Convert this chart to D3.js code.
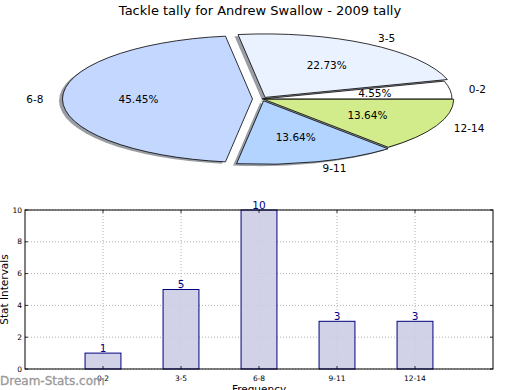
<!DOCTYPE html>
<html>
<head>
<meta charset="utf-8">
<script src="https://cdn.jsdelivr.net/npm/d3@7"></script>
<style>
  body { margin: 0; background: #fff; }
  text { font-family: "DejaVu Sans", sans-serif; }
</style>
</head>
<body>
<div id="chart"></div>
<script>
// data
const categories = ["0-2", "3-5", "6-8", "9-11", "12-14"];
const counts = [1, 5, 10, 3, 3];
const percents = ["4.55%", "22.73%", "45.45%", "13.64%", "13.64%"];
const explode = [0, 0.03, 0.05, 0.03, 0.01];
const sliceColors = ["#ffffff", "#ebf2ff", "#c4d8ff", "#b3d4ff", "#d2ec8c"];
const yTicks = [0, 2, 4, 6, 8, 10];

const width = 520, height = 390;

const svg = d3.select("#chart")
    .append("svg")
    .attr("width", width)
    .attr("height", height);

// title
svg.append("text")
    .attr("x", 260)
    .attr("y", 15)
    .attr("text-anchor", "middle")
    .attr("font-size", "13px")
    .attr("fill", "#000")
    .text("Tackle tally for Andrew Swallow - 2009 tally");

// ---- pie (matplotlib style, counter-clockwise from 3 o'clock) ----
const cx = 262, cy = 99, rx = 190, ry = 63.5;

const pie = d3.pie()
    .sort(null)
    .value(d => d)
    .startAngle(Math.PI / 2)
    .endAngle(Math.PI / 2 - 2 * Math.PI);

const arcs = pie(counts);
const arc = d3.arc().innerRadius(0).outerRadius(ry);

function midTheta(a) {
    return Math.PI / 2 - (a.startAngle + a.endAngle) / 2;
}
function offset(a, i) {
    const t = midTheta(a);
    return [explode[i] * rx * Math.cos(t), -explode[i] * ry * Math.sin(t)];
}

const pieG = svg.append("g");

// shadows
pieG.selectAll(".shadow")
    .data(arcs)
    .enter()
    .append("path")
    .attr("class", "shadow")
    .attr("d", arc)
    .attr("transform", (a, i) => {
        const o = offset(a, i);
        return `translate(${cx + o[0] - 3.5},${cy + o[1] + 1.8}) scale(${rx / ry},1)`;
    })
    .attr("fill", "#9a9ea4");

// wedges
pieG.selectAll(".wedge")
    .data(arcs)
    .enter()
    .append("path")
    .attr("class", "wedge")
    .attr("d", arc)
    .attr("transform", (a, i) => {
        const o = offset(a, i);
        return `translate(${cx + o[0]},${cy + o[1]}) scale(${rx / ry},1)`;
    })
    .attr("fill", (a, i) => sliceColors[i])
    .attr("stroke", "#000")
    .attr("stroke-width", 0.8)
    .attr("vector-effect", "non-scaling-stroke");

// labels
pieG.selectAll(".plabel")
    .data(arcs)
    .enter()
    .append("text")
    .attr("class", "plabel")
    .attr("x", (a, i) => cx + offset(a, i)[0] + 1.1 * rx * Math.cos(midTheta(a)))
    .attr("y", (a, i) => cy + offset(a, i)[1] - 1.1 * ry * Math.sin(midTheta(a)))
    .attr("dy", "0.35em")
    .attr("text-anchor", a => Math.cos(midTheta(a)) < 0 ? "end" : "start")
    .attr("font-size", "10.5px")
    .text((a, i) => categories[i]);

pieG.selectAll(".pct")
    .data(arcs)
    .enter()
    .append("text")
    .attr("class", "pct")
    .attr("x", (a, i) => cx + offset(a, i)[0] + 0.6 * rx * Math.cos(midTheta(a)))
    .attr("y", (a, i) => cy + offset(a, i)[1] - 0.6 * ry * Math.sin(midTheta(a)))
    .attr("dy", "0.35em")
    .attr("text-anchor", "middle")
    .attr("font-size", "10.5px")
    .text((a, i) => percents[i]);

// ---- bar chart ----
const axLeft = 25, axRight = 493, axTop = 210, axBottom = 369;

const x = d3.scaleLinear().domain([0, 6]).range([axLeft, axRight]);
const y = d3.scaleLinear().domain([0, 10]).range([axBottom, axTop]);
const barW = 0.46;

const barG = svg.append("g");

// grid
barG.selectAll(".hgrid")
    .data(yTicks)
    .enter()
    .append("line")
    .attr("x1", axLeft).attr("x2", axRight)
    .attr("y1", d => y(d)).attr("y2", d => y(d))
    .attr("stroke", "#b0b0b0")
    .attr("stroke-width", 1)
    .attr("stroke-dasharray", "1,2");

barG.selectAll(".vgrid")
    .data(categories)
    .enter()
    .append("line")
    .attr("x1", (d, i) => x(i + 1)).attr("x2", (d, i) => x(i + 1))
    .attr("y1", axTop).attr("y2", axBottom)
    .attr("stroke", "#b0b0b0")
    .attr("stroke-width", 1)
    .attr("stroke-dasharray", "1,2");

// bars
barG.selectAll(".bar")
    .data(counts)
    .enter()
    .append("rect")
    .attr("x", (d, i) => x(i + 1 - barW / 2))
    .attr("y", d => y(d))
    .attr("width", x(barW) - x(0))
    .attr("height", d => y(0) - y(d))
    .attr("fill", "#ccccE5")
    .attr("fill-opacity", 0.9)
    .attr("stroke", "#000080")
    .attr("stroke-width", 1);

// value labels
barG.selectAll(".val")
    .data(counts)
    .enter()
    .append("text")
    .attr("x", (d, i) => x(i + 1))
    .attr("y", d => y(d) - 1.5)
    .attr("text-anchor", "middle")
    .attr("font-size", "10.5px")
    .attr("fill", "#00008b")
    .text(d => d);

// frame
barG.append("rect")
    .attr("x", axLeft).attr("y", axTop)
    .attr("width", axRight - axLeft).attr("height", axBottom - axTop)
    .attr("fill", "none")
    .attr("stroke", "#000")
    .attr("stroke-width", 1);

// y ticks
barG.selectAll(".yt")
    .data(yTicks)
    .enter()
    .append("text")
    .attr("x", axLeft - 3)
    .attr("y", d => y(d))
    .attr("dy", "0.35em")
    .attr("text-anchor", "end")
    .attr("font-size", "7.5px")
    .text(d => d);

barG.selectAll(".ytl")
    .data(yTicks)
    .enter()
    .append("path")
    .attr("d", d => `M${axLeft},${y(d)}h3M${axRight},${y(d)}h-3`)
    .attr("stroke", "#000")
    .attr("stroke-width", 0.8);

barG.selectAll(".xtl")
    .data(categories)
    .enter()
    .append("path")
    .attr("d", (d, i) => `M${x(i + 1)},${axBottom}v-3M${x(i + 1)},${axTop}v3`)
    .attr("stroke", "#000")
    .attr("stroke-width", 0.8);

// x ticks
barG.selectAll(".xt")
    .data(categories)
    .enter()
    .append("text")
    .attr("x", (d, i) => x(i + 1))
    .attr("y", axBottom + 12)
    .attr("text-anchor", "middle")
    .attr("font-size", "7.5px")
    .text(d => d);

// axis labels
svg.append("text")
    .attr("transform", `translate(8,${(axTop + axBottom) / 2}) rotate(-90)`)
    .attr("text-anchor", "middle")
    .attr("font-size", "10.5px")
    .text("Stat Intervals");

svg.append("text")
    .attr("x", (axLeft + axRight) / 2)
    .attr("y", 393)
    .attr("text-anchor", "middle")
    .attr("font-size", "10.5px")
    .text("Frequency");

// watermark
svg.append("text")
    .attr("x", 0)
    .attr("y", 385)
    .attr("font-size", "12px")
    .attr("fill", "#999999")
    .attr("stroke", "#999999")
    .attr("stroke-width", 0.3)
    .text("Dream-Stats.com");
</script>
</body>
</html>
